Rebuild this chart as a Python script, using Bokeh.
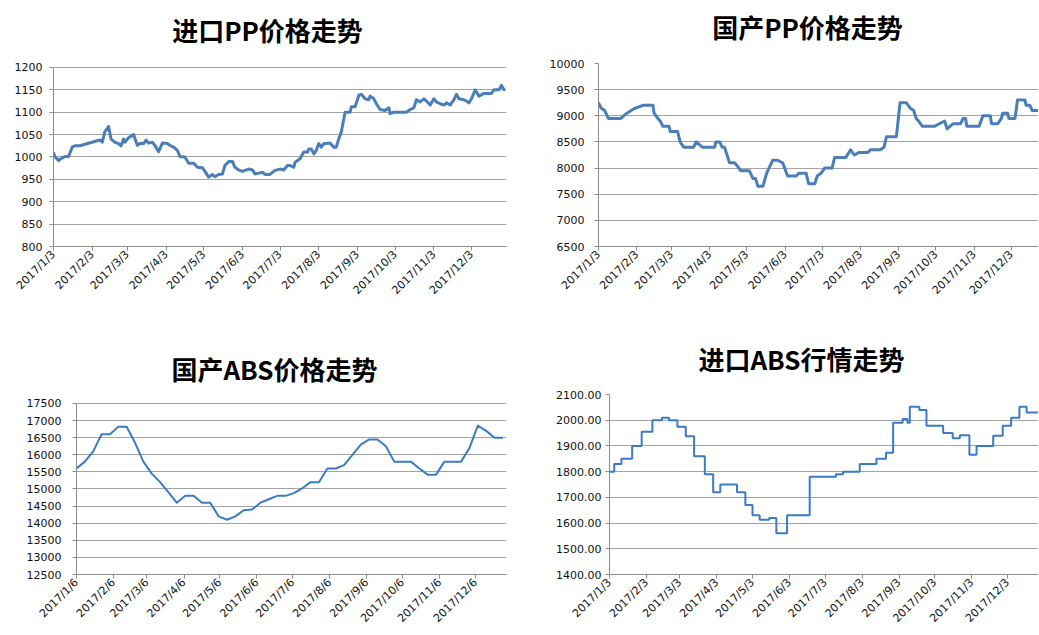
import pandas as pd
from bokeh.plotting import figure
from bokeh.layouts import row, column
from bokeh.models import Range1d, FixedTicker, CustomJSTickFormatter, PrintfTickFormatter
from bokeh.core.properties import value
from bokeh.embed import file_html
from bokeh.resources import INLINE

YEAR = 2017

# ---------------- 进口PP价格走势 ----------------
imp_pp_dates = ["1/3", "1/4", "1/7", "1/10", "1/12", "1/15", "1/18", "1/20", "1/24", "2/9",
                "2/11", "2/13", "2/16", "2/18", "2/21", "2/24", "2/26", "2/28", "3/1", "3/4",
                "3/8", "3/11", "3/13", "3/16", "3/18", "3/20", "3/23", "3/25", "3/28", "3/31",
                "4/4", "4/6", "4/9", "4/12", "4/14", "4/18", "4/21", "4/25", "4/28", "5/2",
                "5/4", "5/7", "5/10", "5/12", "5/15", "5/18", "5/20", "5/23", "5/26", "5/28",
                "5/31", "6/3", "6/5", "6/8", "6/11", "6/13", "6/16", "6/19", "6/21", "6/25",
                "6/29", "7/3", "7/6", "7/9", "7/11", "7/14", "7/15", "7/19", "7/22", "7/25",
                "7/26", "7/28", "7/30", "8/1", "8/3", "8/5", "8/7", "8/9", "8/12", "8/15",
                "8/17", "8/19", "8/21", "8/24", "8/28", "8/29", "9/1", "9/4", "9/6", "9/9",
                "9/12", "9/13", "9/16", "9/18", "9/21", "9/25", "9/28", "9/29", "10/2", "10/12",
                "10/15", "10/18", "10/20", "10/23", "10/26", "10/28", "10/31", "11/3", "11/5", "11/8",
                "11/11", "11/13", "11/16", "11/19", "11/21", "11/23", "11/27", "11/29", "12/1", "12/3",
                "12/6", "12/9", "12/13", "12/19", "12/21", "12/25", "12/27", "12/29", "12/30"]
imp_pp_values = [1010, 1001, 992, 998, 1001, 1001, 1022, 1025, 1025, 1038,
                 1033, 1056, 1068, 1040, 1033, 1030, 1025, 1040, 1033, 1043,
                 1050, 1026, 1030, 1030, 1038, 1031, 1033, 1026, 1012, 1031,
                 1030, 1026, 1022, 1015, 1001, 1000, 986, 986, 977, 976,
                 968, 955, 961, 956, 961, 962, 981, 990, 990, 977,
                 971, 968, 970, 973, 971, 962, 964, 966, 961, 961,
                 970, 973, 971, 981, 981, 977, 988, 996, 1011, 1011,
                 1018, 1018, 1007, 1015, 1030, 1022, 1030, 1030, 1031, 1022,
                 1022, 1041, 1056, 1100, 1100, 1112, 1112, 1138, 1140, 1130,
                 1128, 1136, 1130, 1119, 1106, 1104, 1110, 1097, 1100, 1100,
                 1106, 1110, 1128, 1123, 1130, 1125, 1116, 1130, 1123, 1119,
                 1116, 1121, 1116, 1128, 1140, 1130, 1128, 1125, 1121, 1130,
                 1150, 1136, 1142, 1142, 1150, 1150, 1160, 1150, 1150]
imp_pp_xticks = ["1/3", "2/3", "3/3", "4/3", "5/3", "6/3", "7/3", "8/3", "9/3", "10/3", "11/3", "12/3"]
imp_pp_yticks = [800, 850, 900, 950, 1000, 1050, 1100, 1150, 1200]

# ---------------- 国产PP价格走势 ----------------
dom_pp_dates = ["1/3", "1/5", "1/8", "1/11", "1/21", "1/26", "2/1", "2/8", "2/16", "2/17",
                "2/20", "2/22", "2/24", "3/1", "3/2", "3/8", "3/10", "3/13", "3/21", "3/23",
                "3/28", "4/7", "4/8", "4/11", "4/13", "4/15", "4/19", "4/23", "4/25", "4/28",
                "5/5", "5/8", "5/10", "5/12", "5/16", "5/19", "5/24", "5/28", "6/1", "6/5",
                "6/12", "6/14", "6/20", "6/22", "6/27", "6/29", "7/2", "7/5", "7/11", "7/13",
                "7/22", "7/26", "7/29", "8/2", "8/9", "8/11", "8/19", "8/22", "8/24", "9/1",
                "9/4", "9/9", "9/12", "9/15", "9/17", "9/19", "9/22", "10/2", "10/10", "10/12",
                "10/17", "10/23", "10/25", "10/27", "10/28", "11/7", "11/10", "11/16", "11/17", "11/22",
                "11/25", "11/26", "11/30", "12/1", "12/6", "12/8", "12/14", "12/15", "12/18", "12/20",
                "12/26"]
dom_pp_values = [9250, 9150, 9100, 8950, 8950, 9050, 9140, 9200, 9200, 9050,
                 8950, 8900, 8800, 8800, 8700, 8700, 8500, 8400, 8400, 8500,
                 8400, 8400, 8500, 8500, 8400, 8400, 8100, 8100, 8050, 7950,
                 7950, 7800, 7800, 7650, 7650, 7900, 8150, 8150, 8100, 7850,
                 7850, 7900, 7900, 7700, 7700, 7850, 7900, 8000, 8000, 8200,
                 8200, 8350, 8250, 8300, 8300, 8350, 8350, 8400, 8600, 8600,
                 9250, 9250, 9150, 9100, 8950, 8900, 8800, 8800, 8900, 8750,
                 8850, 8850, 8950, 8950, 8800, 8800, 9000, 9000, 8850, 8850,
                 8950, 9050, 9050, 8950, 8950, 9300, 9300, 9200, 9200, 9100,
                 9100]
dom_pp_xticks = ["1/3", "2/3", "3/3", "4/3", "5/3", "6/3", "7/3", "8/3", "9/3", "10/3", "11/3", "12/3"]
dom_pp_yticks = [6500, 7000, 7500, 8000, 8500, 9000, 9500, 10000]

# ---------------- 国产ABS价格走势 (weekly) ----------------
dom_abs_dates = ["1/6", "1/13", "1/20", "1/27", "2/3", "2/10", "2/17", "2/24", "3/3", "3/10",
                 "3/17", "3/24", "3/31", "4/7", "4/14", "4/21", "4/28", "5/5", "5/12", "5/19",
                 "5/26", "6/2", "6/9", "6/16", "6/23", "6/30", "7/7", "7/14", "7/21", "7/28",
                 "8/4", "8/11", "8/18", "8/25", "9/1", "9/8", "9/15", "9/22", "9/29", "10/6",
                 "10/13", "10/20", "10/27", "11/3", "11/10", "11/17", "11/24", "12/1", "12/8", "12/15",
                 "12/22", "12/29"]
dom_abs_values = [15600, 15800, 16100, 16600, 16600, 16820, 16820, 16350, 15800, 15450,
                  15200, 14900, 14600, 14800, 14800, 14600, 14600, 14200, 14100, 14200,
                  14380, 14400, 14600, 14700, 14800, 14800, 14880, 15020, 15200, 15200,
                  15600, 15600, 15700, 16000, 16300, 16450, 16450, 16250, 15800, 15800,
                  15800, 15600, 15420, 15420, 15800, 15800, 15800, 16200, 16850, 16700,
                  16500, 16500]
dom_abs_xticks = ["1/6", "2/6", "3/6", "4/6", "5/6", "6/6", "7/6", "8/6", "9/6", "10/6", "11/6", "12/6"]
dom_abs_yticks = [12500, 13000, 13500, 14000, 14500, 15000, 15500, 16000, 16500, 17000, 17500]

# ---------------- 进口ABS行情走势 (step changes) ----------------
imp_abs_dates = ["1/3", "1/7", "1/13", "1/22", "1/30", "2/8", "2/16", "2/22", "3/1", "3/8",
                 "3/15", "3/24", "3/31", "4/6", "4/20", "4/27", "5/3", "5/9", "5/17", "5/23",
                 "6/1", "6/20", "7/12", "7/18", "8/1", "8/15", "8/23", "8/29", "9/6", "9/10",
                 "9/12", "9/20", "9/26", "10/10", "10/18", "10/24", "11/1", "11/7", "11/21", "11/29",
                 "12/6", "12/13", "12/19", "12/29"]
imp_abs_values = [1800, 1830, 1850, 1900, 1955, 2000, 2010, 2000, 1975, 1938,
                  1860, 1790, 1720, 1750, 1720, 1670, 1630, 1613, 1620, 1560,
                  1630, 1780, 1790, 1800, 1830, 1850, 1873, 1990, 2005, 1990,
                  2052, 2040, 1978, 1950, 1930, 1942, 1866, 1900, 1940, 1978,
                  2010, 2052, 2030, 2030]
imp_abs_xticks = ["1/3", "2/3", "3/3", "4/3", "5/3", "6/3", "7/3", "8/3", "9/3", "10/3", "11/3", "12/3"]
imp_abs_yticks = [1400, 1500, 1600, 1700, 1800, 1900, 2000, 2100]

titles = ["进口PP价格走势", "国产PP价格走势", "国产ABS价格走势", "进口ABS行情走势"]


def to_dt(md_list, year=YEAR):
    return pd.to_datetime([f"{year}/{s}" for s in md_list], format="%Y/%m/%d")


def to_ms(md_list):
    return [float(v) for v in (to_dt(md_list).astype("int64") // 10**6)]


DATE_FMT = CustomJSTickFormatter(code="""
const d = new Date(tick);
return d.getUTCFullYear() + '/' + (d.getUTCMonth() + 1) + '/' + d.getUTCDate();
""")

AXIS_COLOR = "#8c8c8c"
GRID_COLOR = "#a3a3a3"
LABEL_FONT = "DejaVu Sans"


def title_fig(text, w, h, cx, cy):
    """A strip that only carries a chart title (pixel-like coordinates, y downwards)."""
    t = figure(width=w, height=h, output_backend="svg", toolbar_location=None,
               x_axis_location=None, y_axis_location=None,
               min_border_left=0, min_border_right=0, min_border_top=0, min_border_bottom=0,
               x_range=Range1d(0, w), y_range=Range1d(h, 0))
    t.outline_line_color = None
    t.xgrid.grid_line_color = None
    t.ygrid.grid_line_color = None
    t.text(x=[cx], y=[cy], text=[text], text_font=value("Noto Sans CJK SC"),
           text_font_style="bold", text_font_size=value("26px"), text_color="#000000",
           text_align="center", text_baseline="middle")
    return t


def make_fig(w, h, bl, br, bt, bb, xstart, xend, ylo, yhi, ybounds, xticks, yticks, y_standoff):
    p = figure(width=w, height=h, x_axis_type="datetime", output_backend="svg",
               toolbar_location=None,
               min_border_left=bl, min_border_right=br, min_border_top=bt, min_border_bottom=bb,
               x_range=Range1d(pd.Timestamp(xstart), pd.Timestamp(xend)),
               y_range=Range1d(ylo, yhi))
    p.outline_line_color = None
    p.background_fill_color = "white"
    p.border_fill_color = "white"

    xt = FixedTicker(ticks=to_ms(xticks))
    p.xaxis.ticker = xt
    p.xaxis.formatter = DATE_FMT
    p.xaxis.major_label_orientation = 0.7854
    p.xaxis.major_label_standoff = 2
    yt = FixedTicker(ticks=yticks)
    p.yaxis.ticker = yt
    p.ygrid.ticker = yt
    p.yaxis.major_label_standoff = y_standoff
    if ybounds is not None:
        p.yaxis.bounds = ybounds

    for ax in (p.xaxis, p.yaxis):
        ax.axis_line_color = AXIS_COLOR
        ax.major_tick_line_color = AXIS_COLOR
        ax.major_tick_out = 4
        ax.major_tick_in = 0
        ax.minor_tick_line_color = None
        ax.major_label_text_font = LABEL_FONT
        ax.major_label_text_font_size = "11px"
        ax.major_label_text_color = "#111111"
    p.xgrid.grid_line_color = None
    p.ygrid.grid_line_color = GRID_COLOR
    p.ygrid.grid_line_width = 1
    return p


LW, RW = 520, 518

tA = title_fig(titles[0], LW, 55, 267, 29)
tB = title_fig(titles[1], RW, 55, 287, 26)

p1 = make_fig(LW, 253, 53, 14, 8, 62,
              "2017-01-03", "2017-12-31", 800, 1208.9, (800, 1200),
              imp_pp_xticks, imp_pp_yticks, 7)
p1.line(to_dt(imp_pp_dates), imp_pp_values, line_width=3, line_color="#4a7ebb",
        line_join="round")

p2 = make_fig(RW, 253, 78, 0, 8, 62,
              "2017-01-03", "2017-12-25", 6500, 10000, None,
              dom_pp_xticks, dom_pp_yticks, 10)
p2.line(to_dt(dom_pp_dates), dom_pp_values, line_width=3, line_color="#4a7ebb",
        line_join="round")

tC = title_fig(titles[2], LW, 78, 274, 60)
tD = title_fig(titles[3], RW, 78, 281, 50)

p3 = make_fig(LW, 248, 76, 14, 8, 60,
              "2017-01-06", "2018-01-01", 12500, 17763, (12500, 17500),
              dom_abs_xticks, dom_abs_yticks, 11)
p3.line(to_dt(dom_abs_dates), dom_abs_values, line_width=2, line_color="#3b7bc6",
        line_join="round")

p4 = make_fig(RW, 248, 89, 0, 8, 60,
              "2017-01-03", "2017-12-29", 1400, 2100, None,
              imp_abs_xticks, imp_abs_yticks, 4)
p4.yaxis.formatter = PrintfTickFormatter(format="%.2f")
p4.step(to_dt(imp_abs_dates), imp_abs_values, mode="after", line_width=2,
        line_color="#3b7bc6")

layout = column(row(tA, tB, spacing=0), row(p1, p2, spacing=0),
                row(tC, tD, spacing=0), row(p3, p4, spacing=0), spacing=0)

with open("out.html", "w") as f:
    f.write(file_html(layout, INLINE))
